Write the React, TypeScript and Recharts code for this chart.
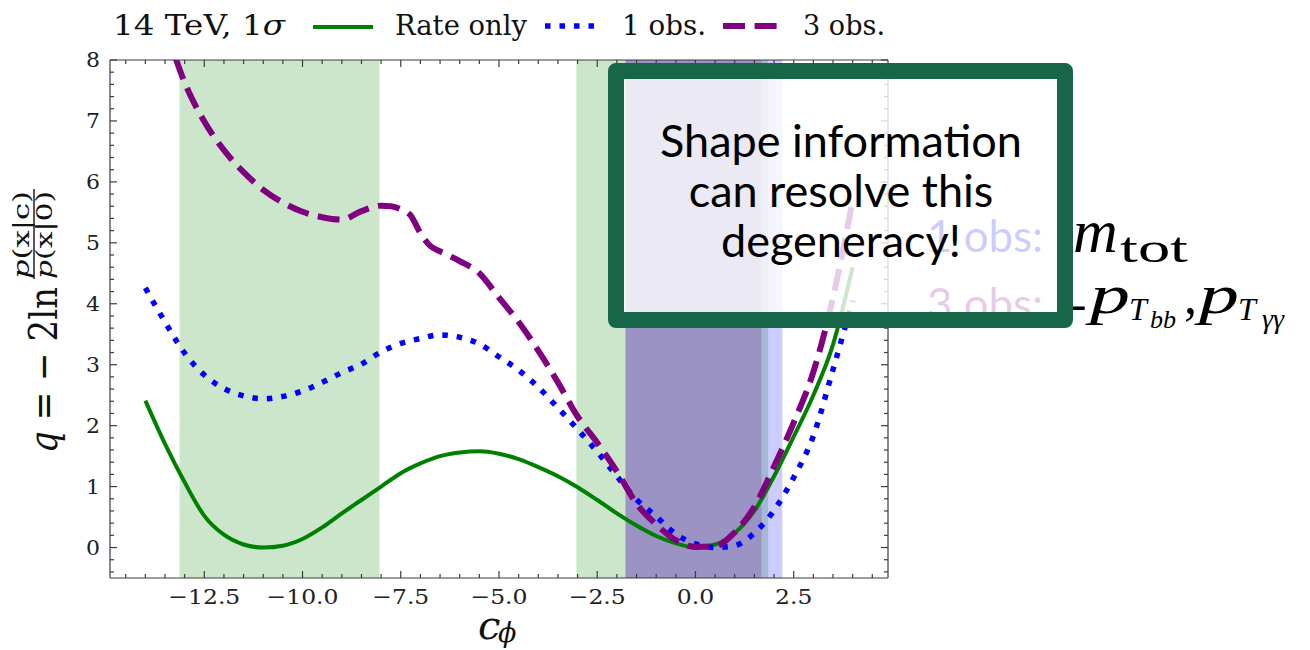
import React from "react";
import { LineChart, Line, XAxis, YAxis, ReferenceArea } from "recharts";

// c_phi grid shared by the rate-only and 1-observable scans
const cPhi = [
  -14, -13.5, -13, -12.5, -12, -11.5, -11, -10.5, -10, -9.5, -9, -8.5, -8, -7.5, -7, -6.5, -6, -5.5, -5,
  -4.5, -4, -3.5, -3, -2.5, -2, -1.5, -1, -0.5, 0, 0.5, 1, 1.5, 2, 2.5, 3, 3.5, 4,
];
const rateOnly = [
  2.41, 1.7, 1.07, 0.52, 0.21, 0.05, 0.0, 0.03, 0.14, 0.33, 0.56, 0.78, 1.0, 1.22, 1.38, 1.5, 1.56, 1.58, 1.54,
  1.45, 1.32, 1.17, 0.99, 0.78, 0.56, 0.36, 0.19, 0.07, 0.0, 0.05, 0.24, 0.6, 1.17, 1.82, 2.5, 3.33, 4.6,
];
const oneObs = [
  4.26, 3.7, 3.19, 2.83, 2.61, 2.49, 2.44, 2.48, 2.57, 2.71, 2.87, 3.01, 3.21, 3.35, 3.43, 3.49, 3.45, 3.34, 3.13,
  2.91, 2.63, 2.29, 1.94, 1.57, 1.17, 0.79, 0.51, 0.22, 0.06, 0.0, 0.03, 0.24, 0.61, 1.15, 1.83, 2.92, 4.05,
];

// the 3-observable scan has a kink near -7, so it carries a few extra points
const cPhi3 = [
  -14, -13.5, -13, -12.5, -12, -11.5, -11, -10.5, -10, -9.5, -9, -8.5, -8, -7.75, -7.5, -7.25, -7, -6.75, -6.5,
  -6, -5.5, -5, -4.5, -4, -3.5, -3, -2.5, -2, -1.5, -1, -0.5, 0, 0.5, 1, 1.5, 2, 2.5, 3, 3.5, 4,
];
const threeObs = [
  9.5, 8.55, 7.63, 6.99, 6.52, 6.16, 5.87, 5.66, 5.51, 5.42, 5.38, 5.52, 5.61, 5.6, 5.55, 5.45, 5.16, 4.95, 4.86,
  4.7, 4.5, 4.1, 3.7, 3.23, 2.71, 2.15, 1.72, 1.25, 0.72, 0.38, 0.12, 0.01, 0.02, 0.25, 0.67, 1.33, 2.05, 2.88, 4.1,
  5.7,
];

// 1 sigma intervals (q < 1)
const rateOnlyBands = [
  [-13.13, -8.04],
  [-3.03, 1.85],
];
const oneObsBands = [[-1.78, 2.21]];
const threeObsBands = [[-1.78, 1.68]];

const xMajor = [-12.5, -10, -7.5, -5, -2.5, 0, 2.5];
const xMajorLabels = ["\u221212.5", "\u221210.0", "\u22127.5", "\u22125.0", "\u22122.5", "0.0", "2.5"];
const yMajor = [0, 1, 2, 3, 4, 5, 6, 7, 8];
const yMajorLabels = ["0", "1", "2", "3", "4", "5", "6", "7", "8"];

const xMinor: number[] = [];
for (let k = -29; k <= 9; k++) xMinor.push(k / 2);
const yMinor: number[] = [];
for (let k = -2; k <= 40; k++) yMinor.push(Math.round(k * 2) / 10);

const GREEN = "#008000";
const BLUE = "#0000ff";
const PURPLE = "#800080";
const AXIS = "#3c3c3c";
const SERIF = "'DejaVu Serif', serif";
const MATH = "Liberation Serif";
const SANS = "Lato, 'Open Sans', sans-serif";

const series = (xs: number[], qs: number[]) => xs.map((x, i) => ({ x, q: qs[i] }));

const majorIndex = (list: number[], v: number) => list.findIndex((m) => Math.abs(m - v) < 1e-6);

function makeXTick(side: "bottom" | "top") {
  return (props: any) => {
    const { x, y, payload } = props;
    const i = majorIndex(xMajor, payload.value);
    const len = i >= 0 ? 7 : 4;
    const dir = side === "bottom" ? -1 : 1;
    return (
      <g>
        <line x1={x} x2={x} y1={y} y2={y + dir * len} stroke={AXIS} strokeWidth={1.2} />
        {side === "bottom" && i >= 0 && (
          <text
            transform={`translate(${x},${y + 26}) scale(1.12,1)`}
            textAnchor="middle"
            fontFamily={SERIF}
            fontSize={21}
            fill="#222"
          >
            {xMajorLabels[i]}
          </text>
        )}
      </g>
    );
  };
}

function makeYTick(side: "left" | "right") {
  return (props: any) => {
    const { x, y, payload } = props;
    const i = majorIndex(yMajor, payload.value);
    const len = i >= 0 ? 7 : 4;
    const dir = side === "left" ? 1 : -1;
    return (
      <g>
        <line x1={x} x2={x + dir * len} y1={y} y2={y} stroke={AXIS} strokeWidth={1.2} />
        {side === "left" && i >= 0 && (
          <text
            transform={`translate(${x - 10},${y + 7}) scale(1.1,1)`}
            textAnchor="end"
            fontFamily={SERIF}
            fontSize={20}
            fill="#222"
          >
            {yMajorLabels[i]}
          </text>
        )}
      </g>
    );
  };
}

function Overlay() {
  return (
    <svg width={1310} height={650} style={{ position: "absolute", left: 0, top: 0 }}>
      {/* title and legend row */}
      <g fontFamily={SERIF} fontSize={27} fill="#111">
        <text x={113} y={35} textLength={172} lengthAdjust="spacingAndGlyphs">
          14 TeV, 1<tspan fontStyle="italic">σ</tspan>
        </text>
        <line x1={313} x2={373} y1={27} y2={27} stroke={GREEN} strokeWidth={4} />
        <text x={395} y={35} textLength={132} lengthAdjust="spacingAndGlyphs">Rate only</text>
        <line x1={545} x2={600} y1={26} y2={26} stroke={BLUE} strokeWidth={5.5} strokeDasharray="5.5 9" />
        <text x={622} y={35} textLength={84} lengthAdjust="spacingAndGlyphs">1 obs.</text>
        <line x1={723} x2={778} y1={26} y2={26} stroke={PURPLE} strokeWidth={6} strokeDasharray="22 9.6" />
        <text x={803} y={35} textLength={82} lengthAdjust="spacingAndGlyphs">3 obs.</text>
      </g>

      {/* y axis label */}
      <g transform="translate(57,453) rotate(-90)" fontFamily={SERIF} fill="#111">
        <text x={0} y={0} fontSize={40} textLength={166} lengthAdjust="spacingAndGlyphs">
          <tspan fontStyle="italic">q</tspan> = {"\u2212"} 2ln
        </text>
        <text x={218} y={-28} fontSize={22} textAnchor="middle" textLength={88} lengthAdjust="spacingAndGlyphs">
          <tspan fontStyle="italic">p</tspan>(x|c)
        </text>
        <line x1={174} x2={264} y1={-23} y2={-23} stroke="#111" strokeWidth={1.4} />
        <text x={218} y={-5} fontSize={22} textAnchor="middle" textLength={88} lengthAdjust="spacingAndGlyphs">
          <tspan fontStyle="italic">p</tspan>(x|0)
        </text>
      </g>

      {/* x axis label */}
      <text x={478} y={639} fontFamily={SERIF} fontStyle="italic" fontSize={40} fill="#111">
        c
      </text>
      <text x={498} y={642} fontFamily={SERIF} fontStyle="italic" fontSize={27} fill="#111">
        ϕ
      </text>

      {/* observable annotations, partly covered by the callout */}
      <text x={927} y={252} fontFamily={SANS} fontSize={44} fill={BLUE} textLength={116} lengthAdjust="spacingAndGlyphs">
        1 obs:
      </text>
      <text x={927} y={320} fontFamily={SANS} fontSize={44} fill={PURPLE} textLength={116} lengthAdjust="spacingAndGlyphs">
        3 obs:
      </text>
      <g fontFamily={MATH} fill="#000">
        <text x={1073} y={252} fontSize={62} fontStyle="italic">
          m
        </text>
        <text x={1120} y={262} fontSize={42} textLength={68} lengthAdjust="spacingAndGlyphs">
          tot
        </text>
        <text x={1071} y={319} fontSize={46}>
          -
        </text>
        <text x={1090} y={313} fontSize={54} fontStyle="italic" textLength={40} lengthAdjust="spacingAndGlyphs">
          p
        </text>
        <text x={1129} y={320} fontSize={32} fontStyle="italic">
          T
        </text>
        <text x={1150} y={328} fontSize={26} fontStyle="italic">
          bb
        </text>
        <text x={1184} y={313} fontSize={52}>
          ,
        </text>
        <text x={1199} y={313} fontSize={54} fontStyle="italic" textLength={40} lengthAdjust="spacingAndGlyphs">
          p
        </text>
        <text x={1238} y={320} fontSize={32} fontStyle="italic">
          T
        </text>
        <text x={1262} y={328} fontSize={28} fontStyle="italic">
          γγ
        </text>
      </g>

      {/* callout box */}
      <rect
        x={616}
        y={71}
        width={449}
        height={249}
        fill="#ffffff"
        fillOpacity={0.8}
        stroke="#17664a"
        strokeWidth={16}
        strokeLinejoin="round"
      />
      <g fontFamily={SANS} fontSize={45} fill="#000" textAnchor="middle">
        <text x={841} y={157}>Shape information</text>
        <text x={841} y={207}>can resolve this</text>
        <text x={841} y={257}>degeneracy!</text>
      </g>
    </svg>
  );
}

export default function App() {
  return (
    <div
      style={{
        position: "absolute",
        left: 0,
        top: 0,
        width: 1310,
        height: 650,
        background: "#fff",
        overflow: "hidden",
      }}
    >
      <LineChart width={1310} height={650} margin={{ top: 0, right: 402, bottom: 0, left: 0 }}>
        <XAxis
          xAxisId={0}
          type="number"
          dataKey="x"
          domain={[-14.9, 4.9]}
          allowDataOverflow
          ticks={xMinor}
          interval={0}
          tickSize={0}
          tickMargin={0}
          tickLine={false}
          tick={makeXTick("bottom")}
          height={72}
          stroke={AXIS}
          strokeWidth={1.2}
        />
        <XAxis
          xAxisId="top"
          orientation="top"
          type="number"
          dataKey="x"
          domain={[-14.9, 4.9]}
          allowDataOverflow
          ticks={xMinor}
          interval={0}
          tickSize={0}
          tickMargin={0}
          tickLine={false}
          tick={makeXTick("top")}
          height={60}
          stroke={AXIS}
          strokeWidth={1.2}
        />
        <YAxis
          yAxisId={0}
          type="number"
          domain={[-0.5, 8]}
          allowDataOverflow
          ticks={yMinor}
          interval={0}
          tickSize={0}
          tickMargin={0}
          tickLine={false}
          tick={makeYTick("left")}
          width={110}
          stroke={AXIS}
          strokeWidth={1.2}
        />
        <YAxis
          yAxisId="right"
          orientation="right"
          type="number"
          domain={[-0.5, 8]}
          allowDataOverflow
          ticks={yMinor}
          interval={0}
          tickSize={0}
          tickMargin={0}
          tickLine={false}
          tick={makeYTick("right")}
          width={20}
          stroke={AXIS}
          strokeWidth={1.2}
        />

        {rateOnlyBands.map(([a, b], i) => (
          <ReferenceArea key={`g${i}`} x1={a} x2={b} fill={GREEN} fillOpacity={0.2} stroke="none" />
        ))}
        {oneObsBands.map(([a, b], i) => (
          <ReferenceArea key={`b${i}`} x1={a} x2={b} fill={BLUE} fillOpacity={0.2} stroke="none" />
        ))}
        {threeObsBands.map(([a, b], i) => (
          <ReferenceArea key={`p${i}`} x1={a} x2={b} fill={PURPLE} fillOpacity={0.2} stroke="none" />
        ))}

        <Line
          data={series(cPhi, rateOnly)}
          dataKey="q"
          type="monotone"
          stroke={GREEN}
          strokeWidth={4}
          dot={false}
          activeDot={false}
          isAnimationActive={false}
        />
        <Line
          data={series(cPhi, oneObs)}
          dataKey="q"
          type="monotone"
          stroke={BLUE}
          strokeWidth={5.5}
          strokeDasharray="5.5 9"
          dot={false}
          activeDot={false}
          isAnimationActive={false}
        />
        <Line
          data={series(cPhi3, threeObs)}
          dataKey="q"
          type="monotone"
          stroke={PURPLE}
          strokeWidth={6}
          strokeDasharray="22 9.6"
          dot={false}
          activeDot={false}
          isAnimationActive={false}
        />
      </LineChart>
      <Overlay />
    </div>
  );
}
